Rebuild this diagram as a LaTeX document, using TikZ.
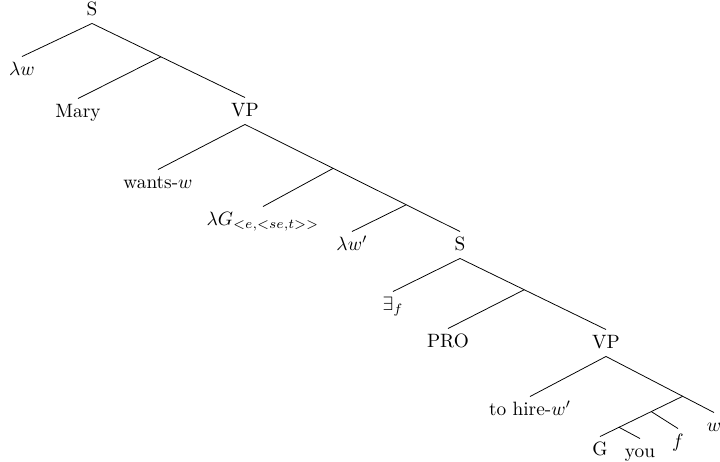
\documentclass[tikz,border=0pt]{standalone}
\usepackage{amsmath}
\usepackage{tikz}

\begin{document}
\begin{tikzpicture}[
    x=0.518pt, y=-0.518pt,
    every node/.style={inner sep=3pt, text height=1.5ex, text depth=.25ex},
    branch/.style={line width=0.4pt},
]
\useasboundingbox (0,0) rectangle (720,462);

\node (s) at (92,10) {S};
\node (lamw) at (22,70) {$\lambda w$};
\node (mary) at (78,112) {Mary};
\node (vp) at (245,111) {VP};
\node (wants) at (158,183) {wants-$w$};
\node (lamg) at (263,220) {$\lambda G_{<e,<se,t>>}$};
\node (lamwp) at (352,245) {$\lambda w'$};
\node (sinner) at (460,245) {S};
\node (exf) at (393,305) {$\exists_f$};
\node (pro) at (448,342) {PRO};
\node (vpinner) at (606,343) {VP};
\node (hire) at (530,410) {to hire-$w'$};
\node (w) at (714,426) {$w$};
\node (f) at (678,442) {$f$};
\node (g) at (600,450) {G};
\node (you) at (640,452) {you};

\draw[branch] (s.south) -- (lamw.north);
\draw[branch] (s.south) -- coordinate[pos=.45] (b1) (vp.north);
\draw[branch] (b1) -- (mary.north);
\draw[branch] (vp.south) -- (wants.north);
\draw[branch] (vp.south) -- coordinate[pos=.41] (b2) coordinate[pos=.75] (b3) (sinner.north);
\draw[branch] (b2) -- (lamg.north);
\draw[branch] (b3) -- (lamwp.north);
\draw[branch] (sinner.south) -- (exf.north);
\draw[branch] (sinner.south) -- coordinate[pos=.44] (b4) (vpinner.north);
\draw[branch] (b4) -- (pro.north);
\draw[branch] (vpinner.south) -- (hire.north);
\draw[branch] (vpinner.south) -- coordinate[pos=.71] (b5) (w.north);
\draw[branch] (b5) -- coordinate[pos=.38] (b6) coordinate[pos=.77] (b7) (g.north);
\draw[branch] (b6) -- (f.north);
\draw[branch] (b7) -- (you.north);

\end{tikzpicture}
\end{document}
